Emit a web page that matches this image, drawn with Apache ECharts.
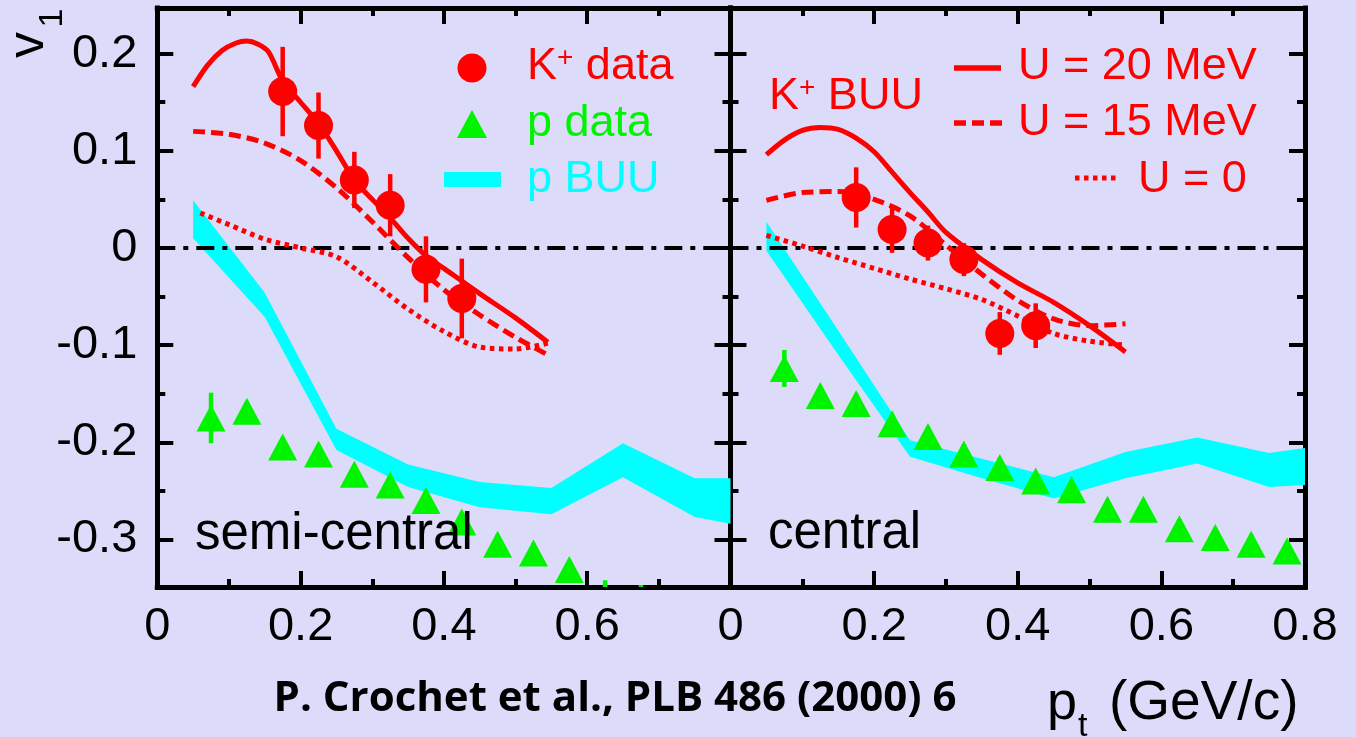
<!DOCTYPE html>
<html><head><meta charset="utf-8">
<script src="https://cdn.jsdelivr.net/npm/echarts@6/dist/echarts.min.js"></script>
<style>html,body{margin:0;padding:0;background:#dcdcfa;}#c{width:1356px;height:737px;}</style>
</head><body><div id="c"></div>
<script>
// ---------- data ----------
const xTicksMajor = [0, 0.2, 0.4, 0.6, 0.8];
const yTicksMajor = [-0.3, -0.2, -0.1, 0, 0.1, 0.2];
const yTicksMinor = [-0.25, -0.15, -0.05, 0.05, 0.15];
const zeroLine = [[0, 0], [0.8, 0]];

// K+ data (both panels)
const kPt = [0.175, 0.225, 0.275, 0.325, 0.375, 0.425];
const kSemi = [0.161, 0.126, 0.070, 0.044, -0.022, -0.052];
const kSemiErr = [0.046, 0.034, 0.029, 0.032, 0.034, 0.041];
const kCent = [0.052, 0.019, 0.005, -0.012, -0.088, -0.080];
const kCentErr = [0.031, 0.024, 0.018, 0.017, 0.022, 0.023];

// proton data
const pPtSemi = [0.075, 0.125, 0.175, 0.225, 0.275, 0.325, 0.375, 0.425, 0.475, 0.525, 0.575, 0.625, 0.675];
const pSemi = [-0.175, -0.168, -0.205, -0.212, -0.233, -0.244, -0.260, -0.282, -0.305, -0.314, -0.331, -0.370, -0.376];
const pSemiErr = [0.026, 0.010, 0.010, 0.010, 0.010, 0.010, 0.010, 0.010, 0.010, 0.010, 0.010, 0.028, 0.029];
const pPtCent = [0.075, 0.125, 0.175, 0.225, 0.275, 0.325, 0.375, 0.425, 0.475, 0.525, 0.575, 0.625, 0.675, 0.725, 0.775];
const pCent = [-0.124, -0.152, -0.160, -0.181, -0.194, -0.212, -0.226, -0.240, -0.249, -0.269, -0.269, -0.289, -0.298, -0.305, -0.312];
const pCentErr = [0.019, 0.010, 0.010, 0.010, 0.010, 0.010, 0.010, 0.010, 0.010, 0.010, 0.010, 0.010, 0.010, 0.010, 0.010];

// proton BUU band
const bandX = [0.05, 0.15, 0.25, 0.35, 0.45, 0.55, 0.65, 0.75, 0.8];
const bandSemiUp = [0.049, -0.046, -0.186, -0.223, -0.241, -0.247, -0.201, -0.237, -0.237];
const bandSemiLo = [0.010, -0.071, -0.208, -0.246, -0.267, -0.274, -0.236, -0.277, -0.284];
const bandCentUp = [0.027, -0.085, -0.198, -0.217, -0.236, -0.210, -0.195, -0.211, -0.206];
const bandCentLo = [-0.003, -0.110, -0.215, -0.237, -0.258, -0.237, -0.222, -0.246, -0.244];

// K+ BUU curves, semi-central
const semiU20X = [0.05, 0.07, 0.09, 0.11, 0.125, 0.14, 0.155, 0.175, 0.2, 0.225, 0.25, 0.275, 0.3, 0.325, 0.35, 0.375, 0.4, 0.45, 0.5, 0.545];
const semiU20Y = [0.166, 0.188, 0.203, 0.211, 0.213, 0.210, 0.202, 0.172, 0.150, 0.128, 0.100, 0.070, 0.050, 0.031, 0.010, -0.008, -0.021, -0.047, -0.072, -0.097];
const semiU15X = [0.05, 0.1, 0.15, 0.2, 0.25, 0.3, 0.35, 0.4, 0.45, 0.5, 0.545];
const semiU15Y = [0.120, 0.117, 0.108, 0.090, 0.062, 0.027, -0.010, -0.043, -0.069, -0.092, -0.110];
const semiU0X = [0.06, 0.1, 0.15, 0.2, 0.25, 0.3, 0.35, 0.4, 0.45, 0.5, 0.545];
const semiU0Y = [0.036, 0.024, 0.009, 0.000, -0.009, -0.035, -0.063, -0.086, -0.102, -0.104, -0.098];

// K+ BUU curves, central
const centU20X = [0.05, 0.075, 0.1, 0.125, 0.15, 0.175, 0.2, 0.225, 0.25, 0.275, 0.3, 0.35, 0.4, 0.45, 0.5, 0.55];
const centU20Y = [0.096, 0.111, 0.121, 0.124, 0.122, 0.113, 0.099, 0.078, 0.057, 0.037, 0.016, -0.012, -0.036, -0.056, -0.080, -0.107];
const centU15X = [0.05, 0.1, 0.15, 0.2, 0.25, 0.3, 0.35, 0.4, 0.45, 0.5, 0.55];
const centU15Y = [0.049, 0.057, 0.058, 0.050, 0.033, 0.003, -0.027, -0.054, -0.073, -0.080, -0.078];
const centU0X = [0.05, 0.1, 0.15, 0.2, 0.25, 0.3, 0.35, 0.4, 0.45, 0.5, 0.55];
const centU0Y = [0.013, 0.002, -0.010, -0.021, -0.032, -0.042, -0.053, -0.070, -0.088, -0.096, -0.100];

// ---------- style ----------
const FONT = '"Liberation Sans", Arial, sans-serif';
const RED = '#ff0000', GREEN = '#00f400', CYAN = '#00ffff', BLACK = '#000000';
const Y_MIN = -0.349, Y_MAX = 0.247;
const DASH = [12, 6], DOT = [4.5, 4.5], DASHDOT = [18, 8, 5, 8];
const CURVE_W = 5;

const frame = {color: BLACK, width: 5, cap: 'square'};
const tickStyle = {color: BLACK, width: 4};

function xAxis(gi, pos, showLabels, hideLast) {
  return {
    type: 'value', gridIndex: gi, position: pos, min: 0, max: 0.8, interval: 0.2,
    axisLine: {show: true, onZero: false, lineStyle: frame},
    axisTick: {show: true, inside: true, length: 16, lineStyle: tickStyle},
    minorTick: {show: true, splitNumber: 2, length: 8, lineStyle: tickStyle},
    splitLine: {show: false}, minorSplitLine: {show: false},
    axisLabel: {
      show: showLabels, margin: 17, color: BLACK, fontFamily: FONT, fontSize: 47,
      showMinLabel: true, showMaxLabel: true,
      formatter: v => (hideLast && Math.abs(v - 0.8) < 1e-6) ? '' : (Math.abs(v) < 1e-9 ? '0' : (+v).toFixed(1))
    }
  };
}
function yAxis(gi, pos, values, len, showLine, showLabels) {
  return {
    type: 'value', gridIndex: gi, position: pos, min: Y_MIN, max: Y_MAX,
    axisLine: {show: showLine, onZero: false, lineStyle: frame},
    axisTick: {show: true, inside: true, length: len, customValues: values, lineStyle: tickStyle},
    splitLine: {show: false},
    axisLabel: {
      show: showLabels, customValues: yTicksMajor, margin: 20, color: BLACK, fontFamily: FONT, fontSize: 47,
      formatter: v => Math.abs(v) < 1e-9 ? '0' : (+v).toFixed(1)
    }
  };
}

function pairs(xs, ys) { return xs.map((x, i) => [x, ys[i]]); }

function curve(gi, xs, ys, type, width) {
  return {
    type: 'line', xAxisIndex: gi * 2, yAxisIndex: gi * 4, data: pairs(xs, ys),
    symbol: 'none', smooth: 0.3, silent: true, z: 4,
    lineStyle: {color: RED, width: width, type: type, cap: 'butt'}
  };
}
function band(gi, xs, up, lo) {
  return {
    type: 'custom', xAxisIndex: gi * 2, yAxisIndex: gi * 4, clip: true, silent: true, z: 2,
    data: xs.map((x, i) => [x, up[i], lo[i]]),
    renderItem: function (params, api) {
      if (params.dataIndex !== 0) return null;
      const pts = [];
      for (let i = 0; i < xs.length; i++) pts.push(api.coord([xs[i], up[i]]));
      for (let i = xs.length - 1; i >= 0; i--) pts.push(api.coord([xs[i], lo[i]]));
      return {type: 'polygon', shape: {points: pts}, style: {fill: CYAN, stroke: null}};
    }
  };
}
function errBars(gi, xs, ys, es, color) {
  return {
    type: 'custom', xAxisIndex: gi * 2, yAxisIndex: gi * 4, clip: true, silent: true, z: 5,
    data: xs.map((x, i) => [x, ys[i], es[i]]),
    renderItem: function (params, api) {
      const x = api.value(0), y = api.value(1), e = api.value(2);
      const a = api.coord([x, y - e]), b = api.coord([x, y + e]);
      return {type: 'line', shape: {x1: a[0], y1: a[1], x2: b[0], y2: b[1]}, style: {stroke: color, lineWidth: 4.5}};
    }
  };
}
function points(gi, xs, ys, symbol, size, color) {
  return {
    type: 'scatter', xAxisIndex: gi * 2, yAxisIndex: gi * 4, data: pairs(xs, ys),
    symbol: symbol, symbolSize: size, itemStyle: {color: color, opacity: 1}, silent: true, z: 6, clip: true
  };
}
function zero(gi) {
  return {
    type: 'line', xAxisIndex: gi * 2, yAxisIndex: gi * 4, data: zeroLine, symbol: 'none', silent: true, z: 3,
    lineStyle: {color: BLACK, width: 4, type: DASHDOT}
  };
}

function txt(x, y, text, size, color, extra) {
  return Object.assign({
    type: 'text', x: x, y: y, z: 100, silent: true,
    style: {text: text, fill: color, fontFamily: FONT, fontSize: size, align: 'left', verticalAlign: 'middle'}
  }, extra || {});
}
function richK(x, y, rest, size, color) {
  return {
    type: 'text', x: x, y: y, z: 100, silent: true,
    style: {
      text: '{a|K}{s|+}{a|' + rest + '}', fill: color, align: 'left', verticalAlign: 'middle',
      rich: {
        a: {fontFamily: FONT, fontSize: size, fill: color, color: color},
        s: {fontFamily: FONT, fontSize: 28, fill: color, color: color, verticalAlign: 'top'}
      }
    }
  };
}

const graphics = [
  // y-axis title v_1 (rotated)
  txt(29, 45, 'v', 52, BLACK, {rotation: Math.PI / 2, style: {text: 'v', fill: BLACK, fontFamily: FONT, fontSize: 52, align: 'center', verticalAlign: 'middle'}}),
  txt(53, 18, '1', 34, BLACK, {rotation: Math.PI / 2, style: {text: '1', fill: BLACK, fontFamily: FONT, fontSize: 34, align: 'center', verticalAlign: 'middle'}}),
  // x-axis title p_t (GeV/c)
  txt(1047, 704, 'p', 54, BLACK),
  txt(1078, 727, 't', 34, BLACK),
  txt(1109, 704, '(GeV/c)', 55, BLACK),
  // citation
  {type: 'text', x: 615, y: 699, z: 100, silent: true,
   style: {text: 'P. Crochet et al., PLB 486 (2000) 6', fill: BLACK, fontFamily: '"Open Sans", "Noto Sans", sans-serif',
           fontWeight: 'bold', fontSize: 42, align: 'center', verticalAlign: 'middle'}},
  // panel labels
  txt(195, 535, 'semi-central', 51, BLACK),
  txt(768, 534, 'central', 51, BLACK),
  // left legend
  {type: 'circle', shape: {cx: 472, cy: 68, r: 14.5}, style: {fill: RED}, z: 100, silent: true},
  {type: 'polygon', shape: {points: [[472, 110], [487, 138], [457, 138]]}, style: {fill: GREEN}, z: 100, silent: true},
  {type: 'rect', shape: {x: 444, y: 172, width: 57, height: 15}, style: {fill: CYAN}, z: 100, silent: true},
  richK(527, 67, ' data', 45, RED),
  txt(527, 124, 'p data', 45, GREEN),
  txt(527, 180, 'p BUU', 45, CYAN),
  // right legend
  richK(769, 97, ' BUU', 45, RED),
  {type: 'line', shape: {x1: 954, y1: 68, x2: 1001, y2: 68}, style: {stroke: RED, lineWidth: 5.5}, z: 100, silent: true},
  {type: 'line', shape: {x1: 954, y1: 123, x2: 1002, y2: 123}, style: {stroke: RED, lineWidth: 5.5, lineDash: DASH}, z: 100, silent: true},
  {type: 'line', shape: {x1: 1075, y1: 178, x2: 1119, y2: 178}, style: {stroke: RED, lineWidth: 5, lineDash: DOT}, z: 100, silent: true},
  txt(1018, 67, 'U = 20 MeV', 45, RED),
  txt(1018, 123, 'U = 15 MeV', 45, RED),
  txt(1138, 180, 'U = 0', 45, RED)
];

const option = {
  animation: false,
  backgroundColor: '#dcdcfa',
  grid: [
    {left: 157.3, top: 8, width: 573.2, height: 579, containLabel: false, outerBoundsMode: 'none'},
    {left: 730.5, top: 8, width: 574.5, height: 579, containLabel: false, outerBoundsMode: 'none'}
  ],
  xAxis: [
    xAxis(0, 'bottom', true, true),
    xAxis(0, 'top', false, false),
    xAxis(1, 'bottom', true, false),
    xAxis(1, 'top', false, false)
  ],
  yAxis: [
    yAxis(0, 'left', yTicksMajor, 16, true, true),
    yAxis(0, 'left', yTicksMinor, 8, false, false),
    yAxis(0, 'right', yTicksMajor, 16, true, false),
    yAxis(0, 'right', yTicksMinor, 8, false, false),
    yAxis(1, 'left', yTicksMajor, 16, true, false),
    yAxis(1, 'left', yTicksMinor, 8, false, false),
    yAxis(1, 'right', yTicksMajor, 16, true, false),
    yAxis(1, 'right', yTicksMinor, 8, false, false)
  ],
  series: [
    band(0, bandX, bandSemiUp, bandSemiLo),
    zero(0),
    curve(0, semiU0X, semiU0Y, DOT, CURVE_W),
    curve(0, semiU15X, semiU15Y, DASH, CURVE_W),
    curve(0, semiU20X, semiU20Y, 'solid', CURVE_W),
    errBars(0, kPt, kSemi, kSemiErr, RED),
    points(0, kPt, kSemi, 'circle', 29, RED),
    errBars(0, pPtSemi, pSemi, pSemiErr, GREEN),
    points(0, pPtSemi, pSemi, 'triangle', [29, 27], GREEN),

    band(1, bandX, bandCentUp, bandCentLo),
    zero(1),
    curve(1, centU0X, centU0Y, DOT, CURVE_W),
    curve(1, centU15X, centU15Y, DASH, CURVE_W),
    curve(1, centU20X, centU20Y, 'solid', CURVE_W),
    errBars(1, kPt, kCent, kCentErr, RED),
    points(1, kPt, kCent, 'circle', 29, RED),
    errBars(1, pPtCent, pCent, pCentErr, GREEN),
    points(1, pPtCent, pCent, 'triangle', [29, 27], GREEN)
  ],
  graphic: graphics
};

const chart = echarts.init(document.getElementById('c'), null, {renderer: 'canvas'});
chart.setOption(option);
</script>
</body></html>
